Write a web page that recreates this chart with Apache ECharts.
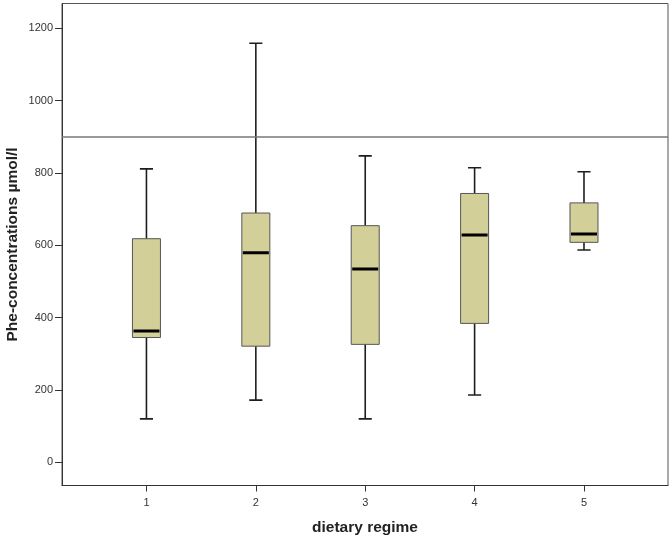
<!DOCTYPE html>
<html>
<head>
<meta charset="utf-8">
<script src="https://cdn.jsdelivr.net/npm/echarts@6/dist/echarts.min.js"></script>
<style>
html,body{margin:0;padding:0;background:#fff;}
#chart{width:672px;height:538px;}
</style>
</head>
<body>
<div id="chart"></div>
<script>
// Data
const categories = ['1', '2', '3', '4', '5'];
const whiskerLow  = [120, 172, 120, 186, 587];
const quartile1   = [345, 321, 326, 384, 608];
const medians     = [363, 579, 534, 628, 631];
const quartile3   = [618, 689, 654, 743, 717];
const whiskerHigh = [811, 1158, 847, 814, 803];
const yTicks = [0, 200, 400, 600, 800, 1000, 1200];
const referenceLevel = 900;

const positions = categories.map((c, i) => i + 1);
const seriesData = categories.map((c, i) => [
  positions[i], whiskerLow[i], quartile1[i], medians[i], quartile3[i], whiskerHigh[i]
]);

function renderItem(params, api) {
  const x = api.value(0);
  const lo = api.coord([x, api.value(1)]);
  const q1 = api.coord([x, api.value(2)]);
  const md = api.coord([x, api.value(3)]);
  const q3 = api.coord([x, api.value(4)]);
  const hi = api.coord([x, api.value(5)]);
  const unit = api.size([1, 0])[0];
  const bw = unit * 0.256;
  const cw = unit * 0.12;
  const cx = lo[0];
  const wStyle = { stroke: '#1e1e1e', lineWidth: 1.6 };
  return {
    type: 'group',
    children: [
      { type: 'line', shape: { x1: cx, y1: hi[1], x2: cx, y2: q3[1] }, style: wStyle },
      { type: 'line', shape: { x1: cx, y1: q1[1], x2: cx, y2: lo[1] }, style: wStyle },
      { type: 'line', shape: { x1: cx - cw / 2, y1: hi[1], x2: cx + cw / 2, y2: hi[1] }, style: wStyle },
      { type: 'line', shape: { x1: cx - cw / 2, y1: lo[1], x2: cx + cw / 2, y2: lo[1] }, style: wStyle },
      { type: 'rect', shape: { x: cx - bw / 2, y: q3[1], width: bw, height: q1[1] - q3[1] },
        style: { fill: '#d3cf98', stroke: '#555', lineWidth: 1 } },
      { type: 'line', shape: { x1: cx - bw / 2 + 1, y1: md[1], x2: cx + bw / 2 - 1, y2: md[1] },
        style: { stroke: '#000', lineWidth: 3 } }
    ]
  };
}

const chart = echarts.init(document.getElementById('chart'), null, { renderer: 'canvas' });
const font = '"Liberation Sans", Arial, sans-serif';
chart.setOption({
  animation: false,
  backgroundColor: '#fff',
  textStyle: { fontFamily: font },
  grid: {
    left: 62, right: 4, top: 3.5, bottom: 52.5,
    containLabel: false,
    outerBoundsMode: 'none',
    show: true, borderColor: '#555', borderWidth: 1, backgroundColor: 'transparent'
  },
  xAxis: {
    type: 'value',
    min: 0.228, max: 5.768,
    name: 'dietary regime',
    nameLocation: 'middle',
    nameGap: 34,
    nameMoveOverlap: false,
    nameTextStyle: { fontSize: 15.5, fontWeight: 'bold', color: '#222', fontFamily: font },
    axisLine: { show: true, onZero: false, lineStyle: { color: '#333', width: 1 } },
    axisTick: { show: true, length: 6, customValues: positions, lineStyle: { color: '#333' } },
    axisLabel: {
      customValues: positions,
      formatter: v => categories[Math.round(v) - 1],
      fontSize: 11, color: '#333', margin: 12, fontFamily: font
    },
    splitLine: { show: false }
  },
  yAxis: {
    type: 'value',
    min: -64, max: 1268,
    name: 'Phe-concentrations µmol/l',
    nameLocation: 'middle',
    nameGap: 41,
    nameMoveOverlap: false,
    nameTextStyle: { fontSize: 15.5, fontWeight: 'bold', color: '#222', fontFamily: font },
    axisLine: { show: true, onZero: false, lineStyle: { color: '#333', width: 1 } },
    axisTick: { show: true, length: 7, customValues: yTicks, lineStyle: { color: '#333' } },
    axisLabel: { customValues: yTicks, formatter: v => String(v), fontSize: 11, color: '#333', margin: 9, fontFamily: font },
    splitLine: { show: false }
  },
  series: [{
    type: 'custom',
    renderItem: renderItem,
    encode: { x: 0, y: [1, 2, 3, 4, 5] },
    data: seriesData,
    clip: true,
    markLine: {
      silent: true,
      symbol: 'none',
      label: { show: false },
      lineStyle: { color: '#777', type: 'solid', width: 1.5 },
      data: [{ yAxis: referenceLevel }]
    }
  }]
});
</script>
</body>
</html>
